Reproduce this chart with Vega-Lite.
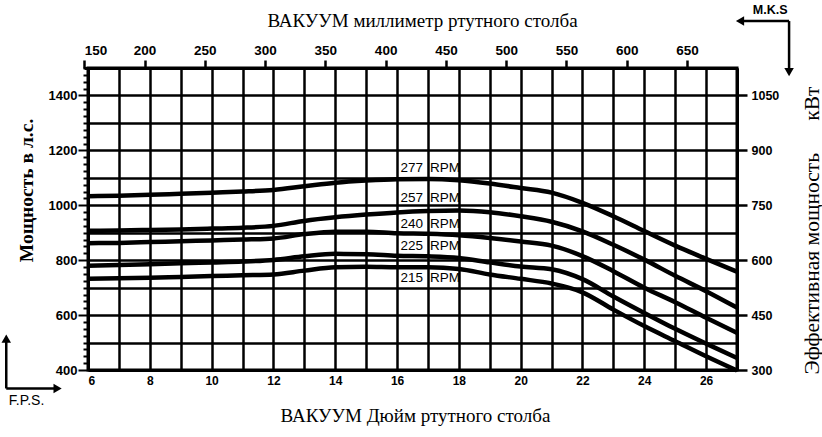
{
  "$schema": "https://vega.github.io/schema/vega-lite/v6.json",
  "width": 649,
  "height": 302,
  "autosize": {"type": "none"},
  "padding": {"left": 88, "top": 68, "right": 85, "bottom": 67},
  "background": "white",
  "config": {
    "view": {"stroke": "black", "strokeWidth": 3},
    "axis": {
      "domainColor": "black", "domainWidth": 3,
      "tickColor": "black", "tickWidth": 2.5,
      "labelColor": "black", "titleColor": "black",
      "gridColor": "black", "gridOpacity": 1, "gridWidth": 2.5,
      "labelFont": "Liberation Sans", "labelFontWeight": "bold",
      "titleFont": "Liberation Serif", "titleFontWeight": "normal", "titleFontSize": 19
    }
  },
  "datasets": {
    "curves": [
      {"rpm": "277", "inHg": 6, "hp": 1033}, {"rpm": "277", "inHg": 7, "hp": 1035}, {"rpm": "277", "inHg": 8, "hp": 1038}, {"rpm": "277", "inHg": 9, "hp": 1042}, {"rpm": "277", "inHg": 10, "hp": 1046}, {"rpm": "277", "inHg": 11, "hp": 1050}, {"rpm": "277", "inHg": 12, "hp": 1056}, {"rpm": "277", "inHg": 13, "hp": 1069}, {"rpm": "277", "inHg": 14, "hp": 1082}, {"rpm": "277", "inHg": 15, "hp": 1090}, {"rpm": "277", "inHg": 16, "hp": 1095}, {"rpm": "277", "inHg": 17, "hp": 1096}, {"rpm": "277", "inHg": 18, "hp": 1091}, {"rpm": "277", "inHg": 19, "hp": 1079}, {"rpm": "277", "inHg": 20, "hp": 1063}, {"rpm": "277", "inHg": 21, "hp": 1046}, {"rpm": "277", "inHg": 22, "hp": 1009}, {"rpm": "277", "inHg": 23, "hp": 960}, {"rpm": "277", "inHg": 24, "hp": 906}, {"rpm": "277", "inHg": 25, "hp": 853}, {"rpm": "277", "inHg": 26, "hp": 805}, {"rpm": "277", "inHg": 27, "hp": 758},
      {"rpm": "257", "inHg": 6, "hp": 907}, {"rpm": "257", "inHg": 7, "hp": 908}, {"rpm": "257", "inHg": 8, "hp": 910}, {"rpm": "257", "inHg": 9, "hp": 912}, {"rpm": "257", "inHg": 10, "hp": 915}, {"rpm": "257", "inHg": 11, "hp": 918}, {"rpm": "257", "inHg": 12, "hp": 925}, {"rpm": "257", "inHg": 13, "hp": 943}, {"rpm": "257", "inHg": 14, "hp": 956}, {"rpm": "257", "inHg": 15, "hp": 966}, {"rpm": "257", "inHg": 16, "hp": 974}, {"rpm": "257", "inHg": 17, "hp": 979}, {"rpm": "257", "inHg": 18, "hp": 981}, {"rpm": "257", "inHg": 19, "hp": 975}, {"rpm": "257", "inHg": 20, "hp": 960}, {"rpm": "257", "inHg": 21, "hp": 940}, {"rpm": "257", "inHg": 22, "hp": 905}, {"rpm": "257", "inHg": 23, "hp": 856}, {"rpm": "257", "inHg": 24, "hp": 802}, {"rpm": "257", "inHg": 25, "hp": 743}, {"rpm": "257", "inHg": 26, "hp": 687}, {"rpm": "257", "inHg": 27, "hp": 627},
      {"rpm": "240", "inHg": 6, "hp": 862}, {"rpm": "240", "inHg": 7, "hp": 863}, {"rpm": "240", "inHg": 8, "hp": 866}, {"rpm": "240", "inHg": 9, "hp": 869}, {"rpm": "240", "inHg": 10, "hp": 872}, {"rpm": "240", "inHg": 11, "hp": 875}, {"rpm": "240", "inHg": 12, "hp": 879}, {"rpm": "240", "inHg": 13, "hp": 895}, {"rpm": "240", "inHg": 14, "hp": 904}, {"rpm": "240", "inHg": 15, "hp": 904}, {"rpm": "240", "inHg": 16, "hp": 898}, {"rpm": "240", "inHg": 17, "hp": 896}, {"rpm": "240", "inHg": 18, "hp": 891}, {"rpm": "240", "inHg": 19, "hp": 881}, {"rpm": "240", "inHg": 20, "hp": 868}, {"rpm": "240", "inHg": 21, "hp": 853}, {"rpm": "240", "inHg": 22, "hp": 815}, {"rpm": "240", "inHg": 23, "hp": 760}, {"rpm": "240", "inHg": 24, "hp": 700}, {"rpm": "240", "inHg": 25, "hp": 647}, {"rpm": "240", "inHg": 26, "hp": 590}, {"rpm": "240", "inHg": 27, "hp": 535},
      {"rpm": "225", "inHg": 6, "hp": 780}, {"rpm": "225", "inHg": 7, "hp": 782}, {"rpm": "225", "inHg": 8, "hp": 785}, {"rpm": "225", "inHg": 9, "hp": 789}, {"rpm": "225", "inHg": 10, "hp": 792}, {"rpm": "225", "inHg": 11, "hp": 795}, {"rpm": "225", "inHg": 12, "hp": 801}, {"rpm": "225", "inHg": 13, "hp": 814}, {"rpm": "225", "inHg": 14, "hp": 823}, {"rpm": "225", "inHg": 15, "hp": 822}, {"rpm": "225", "inHg": 16, "hp": 816}, {"rpm": "225", "inHg": 17, "hp": 814}, {"rpm": "225", "inHg": 18, "hp": 808}, {"rpm": "225", "inHg": 19, "hp": 792}, {"rpm": "225", "inHg": 20, "hp": 777}, {"rpm": "225", "inHg": 21, "hp": 767}, {"rpm": "225", "inHg": 22, "hp": 731}, {"rpm": "225", "inHg": 23, "hp": 668}, {"rpm": "225", "inHg": 24, "hp": 608}, {"rpm": "225", "inHg": 25, "hp": 550}, {"rpm": "225", "inHg": 26, "hp": 496}, {"rpm": "225", "inHg": 27, "hp": 444},
      {"rpm": "215", "inHg": 6, "hp": 732}, {"rpm": "215", "inHg": 7, "hp": 734}, {"rpm": "215", "inHg": 8, "hp": 736}, {"rpm": "215", "inHg": 9, "hp": 739}, {"rpm": "215", "inHg": 10, "hp": 742}, {"rpm": "215", "inHg": 11, "hp": 745}, {"rpm": "215", "inHg": 12, "hp": 748}, {"rpm": "215", "inHg": 13, "hp": 762}, {"rpm": "215", "inHg": 14, "hp": 774}, {"rpm": "215", "inHg": 15, "hp": 776}, {"rpm": "215", "inHg": 16, "hp": 774}, {"rpm": "215", "inHg": 17, "hp": 774}, {"rpm": "215", "inHg": 18, "hp": 768}, {"rpm": "215", "inHg": 19, "hp": 748}, {"rpm": "215", "inHg": 20, "hp": 732}, {"rpm": "215", "inHg": 21, "hp": 715}, {"rpm": "215", "inHg": 22, "hp": 683}, {"rpm": "215", "inHg": 23, "hp": 620}, {"rpm": "215", "inHg": 24, "hp": 560}, {"rpm": "215", "inHg": 25, "hp": 505}, {"rpm": "215", "inHg": 26, "hp": 450}, {"rpm": "215", "inHg": 27, "hp": 398}
    ],
    "labels": [
      {"rpm": "277", "inHg": 17, "hp": 1136},
      {"rpm": "257", "inHg": 17, "hp": 1026},
      {"rpm": "240", "inHg": 17, "hp": 933},
      {"rpm": "225", "inHg": 17, "hp": 850},
      {"rpm": "215", "inHg": 17, "hp": 734}
    ],
    "arrows": [
      {"inHg": 27.1, "hp": 1671, "inHg2": 28.685, "hp2": 1671},
      {"inHg": 28.685, "hp": 1671, "inHg2": 28.685, "hp2": 1490},
      {"inHg": 3.355, "hp": 510, "inHg2": 3.355, "hp2": 332.7},
      {"inHg": 3.355, "hp": 332.7, "inHg2": 5.0, "hp2": 332.7}
    ],
    "heads": [
      {"dir": "left", "inHg": 27.098, "hp": 1671},
      {"dir": "down", "inHg": 28.685, "hp": 1485},
      {"dir": "up", "inHg": 3.355, "hp": 514},
      {"dir": "right", "inHg": 5.016, "hp": 332.7}
    ],
    "mks": [{"t": "M.K.S", "mm": 719, "hp": 1711}],
    "fps": [{"t": "F.P.S.", "inHg": 4.012, "hp": 285.5}]
  },
  "layer": [
    {
      "data": {"name": "curves"},
      "mark": {"type": "line", "color": "black", "strokeWidth": 4.5, "interpolate": "monotone"},
      "encoding": {
        "x": {
          "field": "inHg", "type": "quantitative",
          "scale": {"domain": [6, 27], "nice": false, "zero": false},
          "axis": {
            "orient": "bottom",
            "values": [6, 7, 8, 9, 10, 11, 12, 13, 14, 15, 16, 17, 18, 19, 20, 21, 22, 23, 24, 25, 26, 27],
            "format": "d",
            "labelExpr": "datum.value % 2 === 0 && datum.value < 27 ? datum.label : ''",
            "ticks": false, "tickSize": 0, "labelPadding": 5, "labelFontSize": 12,
            "grid": true,
            "title": "ВАКУУМ Дюйм ртутного столба",
            "titleX": 327, "titleY": 45, "titleAlign": "center", "titleBaseline": "middle"
          }
        },
        "y": {
          "field": "hp", "type": "quantitative",
          "scale": {"domain": [400, 1500], "nice": false, "zero": false},
          "axis": {
            "orient": "left",
            "values": [400, 425, 450, 475, 500, 525, 550, 575, 600, 625, 650, 675, 700, 725, 750, 775, 800, 825, 850, 875, 900, 925, 950, 975, 1000, 1025, 1050, 1075, 1100, 1125, 1150, 1175, 1200, 1225, 1250, 1275, 1300, 1325, 1350, 1375, 1400, 1425, 1450, 1475, 1500],
            "format": "d",
            "labelExpr": "datum.value % 200 === 0 && datum.value < 1500 ? datum.label : ''",
            "tickSize": {"condition": {"test": "datum.value % 200 === 0", "value": 10}, "value": 5},
            "tickWidth": 2,
            "grid": true,
            "gridOpacity": {"condition": {"test": "datum.value % 100 === 0", "value": 1}, "value": 0},
            "labelPadding": 1, "labelFontSize": 13,
            "title": "Мощность в л.с.", "titleFontWeight": "bold", "titleFontSize": 19.5,
            "titleX": -62, "titleY": 122, "titleAngle": -90, "titleAlign": "center", "titleBaseline": "middle"
          }
        },
        "detail": {"field": "rpm"}
      }
    },
    {
      "data": {"name": "labels"},
      "mark": {"type": "text", "align": "right", "baseline": "middle", "dx": -5, "font": "Liberation Sans", "fontSize": 13.5, "color": "black"},
      "encoding": {
        "x": {"field": "inHg", "type": "quantitative", "scale": {"domain": [6, 27], "nice": false, "zero": false}, "axis": null},
        "y": {
          "field": "hp", "type": "quantitative",
          "scale": {"domain": [400, 1500], "nice": false, "zero": false},
          "axis": {
            "orient": "right",
            "values": [400, 600, 800, 1000, 1200, 1400],
            "labelExpr": "format(datum.value * 0.75, 'd')",
            "tickSize": 10, "labelPadding": 4, "labelFontSize": 12.5,
            "grid": false,
            "title": "Эффективная мощность\u00a0\u00a0\u00a0\u00a0\u00a0\u00a0кВт", "titleFontSize": 21.5,
            "titleX": 75, "titleY": 162, "titleAngle": -90, "titleAlign": "center", "titleBaseline": "middle"
          }
        },
        "text": {"field": "rpm"}
      }
    },
    {
      "data": {"name": "labels"},
      "mark": {"type": "text", "text": "RPM", "align": "left", "baseline": "middle", "dx": 2, "font": "Liberation Sans", "fontSize": 13.5, "color": "black"},
      "encoding": {
        "x": {"field": "inHg", "type": "quantitative", "scale": {"domain": [6, 27], "nice": false, "zero": false}, "axis": null},
        "y": {"field": "hp", "type": "quantitative", "scale": {"domain": [400, 1500], "nice": false, "zero": false}, "axis": null}
      }
    },
    {
      "data": {"name": "arrows"},
      "mark": {"type": "rule", "color": "black", "strokeWidth": 2.5},
      "encoding": {
        "x": {"field": "inHg", "type": "quantitative", "scale": {"domain": [6, 27], "nice": false, "zero": false}, "axis": null},
        "x2": {"field": "inHg2"},
        "y": {"field": "hp", "type": "quantitative", "scale": {"domain": [400, 1500], "nice": false, "zero": false}, "axis": null},
        "y2": {"field": "hp2"}
      }
    },
    {
      "data": {"name": "heads"},
      "mark": {"type": "point", "filled": true, "color": "black", "opacity": 1, "size": 90},
      "encoding": {
        "x": {"field": "inHg", "type": "quantitative", "scale": {"domain": [6, 27], "nice": false, "zero": false}, "axis": null},
        "y": {"field": "hp", "type": "quantitative", "scale": {"domain": [400, 1500], "nice": false, "zero": false}, "axis": null},
        "shape": {"field": "dir", "type": "nominal", "scale": {"domain": ["left", "down", "up", "right"], "range": ["triangle-left", "triangle-down", "triangle-up", "triangle-right"]}, "legend": null}
      }
    },
    {
      "data": {"name": "mks"},
      "mark": {"type": "text", "align": "center", "baseline": "middle", "font": "Liberation Sans", "fontWeight": "bold", "fontSize": 12.5, "color": "black"},
      "encoding": {
        "x": {
          "field": "mm", "type": "quantitative",
          "scale": {"domain": [150, 691.5], "range": [-3.7, 649], "nice": false, "zero": false},
          "axis": {
            "orient": "top",
            "values": [150, 200, 250, 300, 350, 400, 450, 500, 550, 600, 650],
            "format": "d",
            "tickSize": 8, "labelPadding": 3, "labelFontSize": 13.5,
            "grid": false, "domain": true,
            "title": "ВАКУУМ миллиметр ртутного столба",
            "titleX": 334, "titleY": -48, "titleAlign": "center", "titleBaseline": "middle"
          }
        },
        "y": {"field": "hp", "type": "quantitative", "scale": {"domain": [400, 1500], "nice": false, "zero": false}, "axis": null},
        "text": {"field": "t"}
      }
    },
    {
      "data": {"name": "fps"},
      "mark": {"type": "text", "align": "center", "baseline": "middle", "font": "Liberation Sans", "fontSize": 14, "color": "black"},
      "encoding": {
        "x": {"field": "inHg", "type": "quantitative", "scale": {"domain": [6, 27], "nice": false, "zero": false}, "axis": null},
        "y": {"field": "hp", "type": "quantitative", "scale": {"domain": [400, 1500], "nice": false, "zero": false}, "axis": null},
        "text": {"field": "t"}
      }
    }
  ],
  "resolve": {"scale": {"x": "independent"}, "axis": {"x": "independent", "y": "independent"}}
}
